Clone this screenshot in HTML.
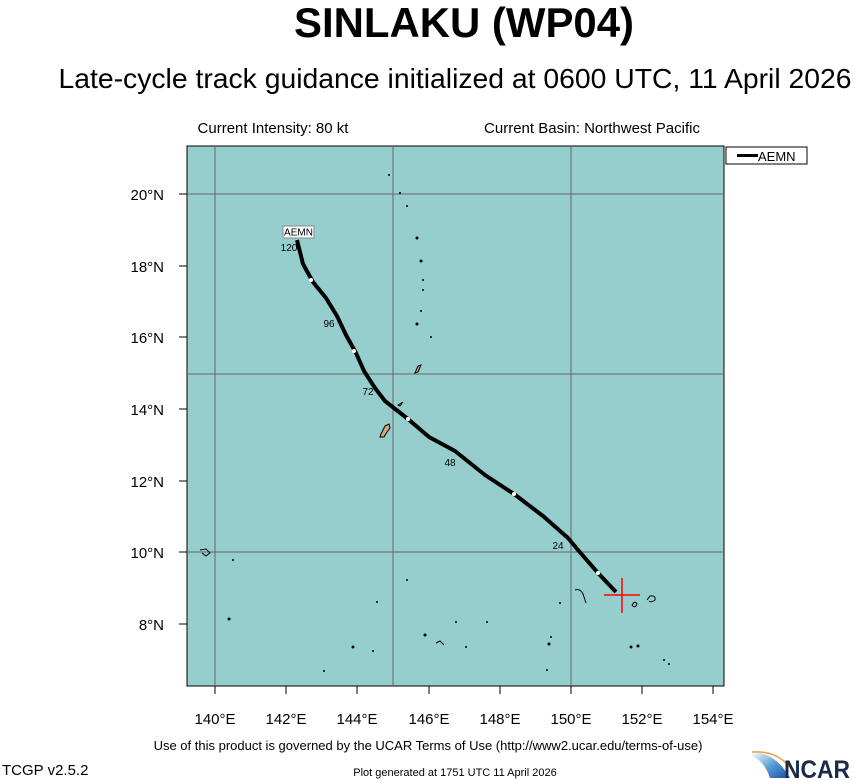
<!DOCTYPE html>
<html><head><meta charset="utf-8"><style>
html,body{margin:0;padding:0;background:#fff;}
svg{display:block;font-family:"Liberation Sans",Arial,sans-serif;}
</style></head><body>
<svg width="853" height="780" viewBox="0 0 853 780" xmlns="http://www.w3.org/2000/svg">
<text x="464" y="37" text-anchor="middle" font-size="42" font-weight="bold" textLength="340" lengthAdjust="spacingAndGlyphs">SINLAKU (WP04)</text>
<text x="455" y="88" text-anchor="middle" font-size="28" textLength="793" lengthAdjust="spacingAndGlyphs">Late-cycle track guidance initialized at 0600 UTC, 11 April 2026</text>
<text x="273" y="133" text-anchor="middle" font-size="15">Current Intensity: 80 kt</text>
<text x="592" y="133" text-anchor="middle" font-size="15">Current Basin: Northwest Pacific</text>
<rect x="187" y="146" width="537" height="540" fill="#96cece" stroke="#000" stroke-width="1"/>
<g stroke="#666" stroke-width="1">
<line x1="215" y1="146" x2="215" y2="686"/><line x1="393" y1="146" x2="393" y2="686"/><line x1="571" y1="146" x2="571" y2="686"/>
<line x1="187" y1="194" x2="724" y2="194"/><line x1="187" y1="374" x2="724" y2="374"/><line x1="187" y1="552" x2="724" y2="552"/>
</g>
<g stroke="#000" stroke-width="1">
<line x1="215" y1="686" x2="215" y2="694"/><line x1="286" y1="686" x2="286" y2="694"/><line x1="357" y1="686" x2="357" y2="694"/><line x1="429" y1="686" x2="429" y2="694"/><line x1="500" y1="686" x2="500" y2="694"/><line x1="571" y1="686" x2="571" y2="694"/><line x1="642" y1="686" x2="642" y2="694"/><line x1="713" y1="686" x2="713" y2="694"/>
<line x1="179" y1="194" x2="187" y2="194"/><line x1="179" y1="266" x2="187" y2="266"/><line x1="179" y1="337" x2="187" y2="337"/><line x1="179" y1="409" x2="187" y2="409"/><line x1="179" y1="481" x2="187" y2="481"/><line x1="179" y1="552" x2="187" y2="552"/><line x1="179" y1="624" x2="187" y2="624"/>
</g>
<g font-size="15" text-anchor="middle">
<text x="215" y="724">140°E</text><text x="286" y="724">142°E</text><text x="357" y="724">144°E</text><text x="429" y="724">146°E</text><text x="500" y="724">148°E</text><text x="571" y="724">150°E</text><text x="642" y="724">152°E</text><text x="713" y="724">154°E</text>
</g>
<g font-size="15" text-anchor="end">
<text x="164" y="200">20°N</text><text x="164" y="272">18°N</text><text x="164" y="343">16°N</text><text x="164" y="415">14°N</text><text x="164" y="487">12°N</text><text x="164" y="558">10°N</text><text x="164" y="630">8°N</text>
</g>
<g fill="#d2a878" stroke="#000" stroke-width="1">
<path d="M381,434 L385,426 L389,424 L390,428 L387,432 L384,437 L380,437 Z"/>
<path d="M398,405 L403,402 L400,406 Z"/>
<path d="M415,373 L418,366 L421,365 L418,372 Z"/>
</g>
<g fill="#000">
<circle cx="389" cy="175" r="1"/><circle cx="400" cy="193" r="1"/><circle cx="407" cy="206" r="1"/><circle cx="417" cy="238" r="1.5"/><circle cx="421" cy="261" r="1.5"/><circle cx="423" cy="280" r="1"/><circle cx="423" cy="290" r="1"/><circle cx="421" cy="311" r="1"/><circle cx="417" cy="324" r="1.5"/><circle cx="431" cy="337" r="1"/>
<circle cx="233" cy="560" r="1"/><circle cx="377" cy="602" r="1"/><circle cx="407" cy="580" r="1"/><circle cx="560" cy="603" r="1"/><circle cx="229" cy="619" r="1.5"/><circle cx="425" cy="635" r="1.5"/><circle cx="456" cy="622" r="1"/><circle cx="487" cy="622" r="1"/><circle cx="353" cy="647" r="1.5"/><circle cx="373" cy="651" r="1"/><circle cx="466" cy="647" r="1"/><circle cx="549" cy="644" r="1.5"/><circle cx="551" cy="637" r="1"/><circle cx="324" cy="671" r="1"/><circle cx="547" cy="670" r="1"/><circle cx="631" cy="647" r="1.5"/><circle cx="638" cy="646" r="1.5"/><circle cx="664" cy="660" r="1"/><circle cx="669" cy="664" r="1"/>
</g>
<g fill="none" stroke="#000" stroke-width="1">
<path d="M200,550 L206,549 L210,553 L206,556 L202,553"/>
<path d="M436,643 L440,641 L444,645"/>
<path d="M575,590 Q580,588 583,594 L586,603"/>
<path d="M632,605 Q635,600 637,604 Q635,609 632,605"/>
<path d="M647,600 L650,596 Q656,595 655,600 Q651,603 649,601"/>
</g>
<polyline fill="none" stroke="#000" stroke-width="4" stroke-linejoin="round" points="297,240 303,264 313,282 326,298 337,316 346,335 356,353 364,371 375,388 385,401 408,419 429,437 455,451 485,475 514,494 543,516 568,538 578,550 598,573 616,592"/>
<g fill="#fff"><circle cx="311" cy="280" r="2"/><circle cx="354" cy="351" r="2"/><circle cx="408" cy="419" r="2"/><circle cx="514" cy="494" r="2"/><circle cx="598" cy="573" r="2"/></g>
<g font-size="10" text-anchor="middle"><text x="289" y="251">120</text><text x="329" y="327">96</text><text x="368" y="395">72</text><text x="450" y="466">48</text><text x="558" y="549">24</text></g>
<rect x="283" y="226" width="31" height="12" fill="#fff" stroke="#888" stroke-width="1"/>
<text x="298.5" y="235.5" font-size="10" text-anchor="middle">AEMN</text>
<g stroke="#f00" stroke-width="1.5"><line x1="604" y1="595" x2="640" y2="595"/><line x1="622" y1="578" x2="622" y2="613"/></g>
<rect x="726" y="147" width="81" height="17" fill="#fff" stroke="#000" stroke-width="1"/>
<line x1="737" y1="155.5" x2="758" y2="155.5" stroke="#000" stroke-width="3"/>
<text x="758" y="161" font-size="13">AEMN</text>
<text x="428" y="750" text-anchor="middle" font-size="13">Use of this product is governed by the UCAR Terms of Use (http://www2.ucar.edu/terms-of-use)</text>
<text x="2" y="775" font-size="15">TCGP v2.5.2</text>
<text x="455" y="776" text-anchor="middle" font-size="11">Plot generated at 1751 UTC   11 April 2026</text>
<defs><linearGradient id="g" x1="0" y1="0" x2="1" y2="1"><stop offset="0" stop-color="#fff"/><stop offset="0.5" stop-color="#5aa0d8"/><stop offset="1" stop-color="#1a4ea0"/></linearGradient></defs>
<path d="M752,752 Q775,752 790,778 L770,778 Q765,762 752,756 Z" fill="url(#g)"/>
<path d="M752,752 Q778,750 792,770" fill="none" stroke="#f0a040" stroke-width="1.5"/>
<text x="784" y="778" font-size="25" font-weight="bold" fill="#1a2a4a" textLength="66" lengthAdjust="spacingAndGlyphs">NCAR</text>
</svg>
</body></html>
